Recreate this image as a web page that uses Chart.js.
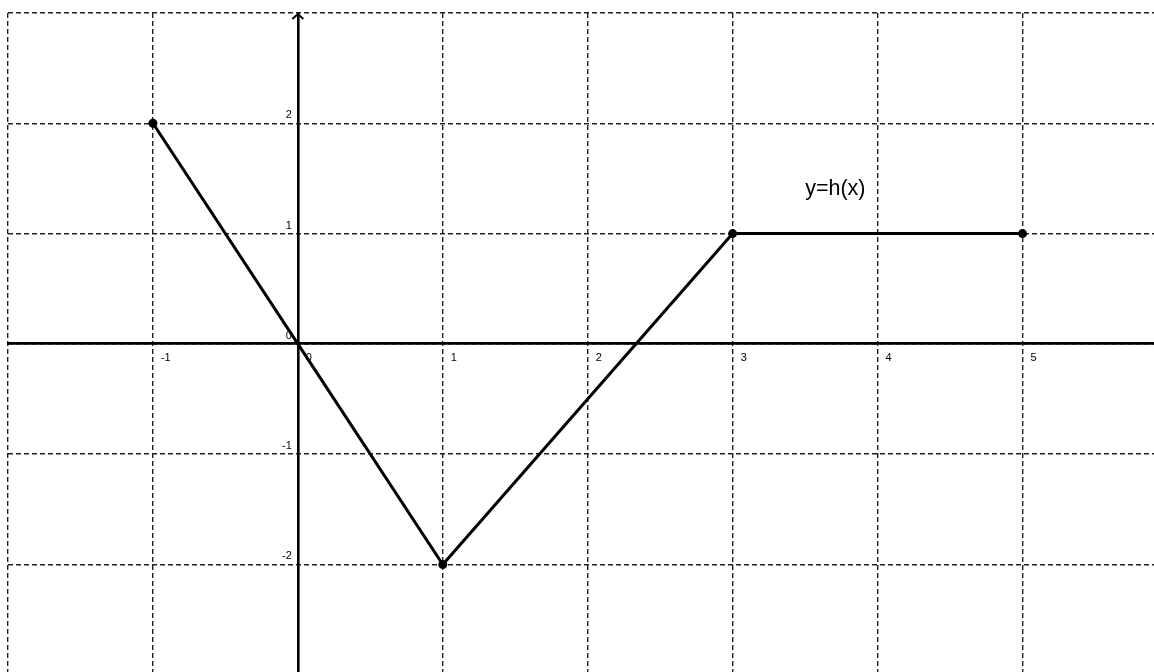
<!DOCTYPE html>
<html lang="en">
<head>
  <meta charset="UTF-8" />
  <title>y=h(x)</title>
  <script src="https://cdn.jsdelivr.net/npm/chart.js"></script>
  <style>
    html, body { margin: 0; padding: 0; background: #fff; overflow: hidden; }
    #wrap { width: 1154px; height: 672px; position: relative; }
  </style>
</head>
<body>
  <div id="wrap"><canvas id="hChart"></canvas></div>

  <script>
    // piecewise function h
    const xValues = [-1, 0, 1, 3, 5];
    const hValues = [2, 0, -2, 1, 1];

    // grid / tick labels
    const xTicks = [-2, -1, 0, 1, 2, 3, 4, 5];
    const xTickLabels = ['', '-1', '0', '1', '2', '3', '4', '5'];
    const yTicks = [-2, -1, 0, 1, 2, 3];
    const yTickLabels = ['-2', '-1', '0', '1', '2', ''];

    const curveLabel = 'y=h(x)';
    const curveLabelAt = [3.5, 1.35];

    const points = xValues.map((x, i) => ({ x, y: hValues[i] }));
    const tickFont = { family: 'Liberation Sans, Arial, sans-serif', size: 11 };
    const gridColor = '#222';

    const extras = {
      id: 'extras',
      afterDraw(chart) {
        const { ctx, scales: { x, y } } = chart;
        const ax = x.getPixelForValue(0);
        const top = chart.chartArea.top + 1;
        ctx.save();
        // arrow head on the y axis
        ctx.strokeStyle = '#000';
        ctx.lineWidth = 2;
        ctx.beginPath();
        ctx.moveTo(ax - 5.5, top + 5);
        ctx.lineTo(ax, top);
        ctx.lineTo(ax + 5.5, top + 5);
        ctx.stroke();
        // curve name
        ctx.fillStyle = '#000';
        ctx.font = '21.5px "Liberation Sans", Arial, sans-serif';
        ctx.textAlign = 'left';
        ctx.textBaseline = 'alphabetic';
        ctx.fillText(curveLabel, x.getPixelForValue(curveLabelAt[0]), y.getPixelForValue(curveLabelAt[1]));
        ctx.restore();
      }
    };

    new Chart(document.getElementById('hChart'), {
      type: 'scatter',
      data: {
        datasets: [{
          data: points,
          showLine: true,
          borderColor: '#000',
          borderWidth: 3,
          backgroundColor: '#000',
          pointRadius: ctx => (ctx.raw && ctx.raw.x === 0 ? 0 : 4.5),
          pointBorderWidth: 0,
          tension: 0
        }]
      },
      options: {
        responsive: true,
        maintainAspectRatio: false,
        animation: false,
        layout: { autoPadding: false, padding: { left: 8, top: 13, right: 0, bottom: 0 } },
        plugins: { legend: { display: false }, tooltip: { enabled: false } },
        scales: {
          x: {
            type: 'linear',
            position: { y: 0 },
            min: -2,
            max: 5.907,
            afterBuildTicks: s => { s.ticks = xTicks.map(v => ({ value: v })); },
            afterFit: s => { s.paddingLeft = 0; s.paddingRight = 0; },
            ticks: {
              align: 'start',
              labelOffset: 8,
              padding: 7,
              maxRotation: 0,
              minRotation: 0,
              color: '#000',
              font: tickFont,
              callback: v => xTickLabels[xTicks.indexOf(v)] ?? ''
            },
            grid: { color: gridColor, lineWidth: 1.4, drawTicks: false },
            border: { display: true, color: '#000', width: 2.8, dash: [5, 3] }
          },
          y: {
            type: 'linear',
            position: { x: 0 },
            min: -2.975,
            max: 3,
            afterBuildTicks: s => { s.ticks = yTicks.map(v => ({ value: v })); },
            afterFit: s => { s.paddingTop = 0; s.paddingBottom = 0; },
            ticks: {
              labelOffset: -8,
              padding: 0,
              color: '#000',
              font: tickFont,
              callback: v => {
                const t = yTickLabels[yTicks.indexOf(v)] ?? '';
                return t ? t + '  ' : '';
              }
            },
            grid: { color: gridColor, lineWidth: 1.4, drawTicks: false },
            border: { display: true, color: '#000', width: 2.6, dash: [5, 3] }
          }
        }
      },
      plugins: [extras]
    });
  </script>
</body>
</html>
